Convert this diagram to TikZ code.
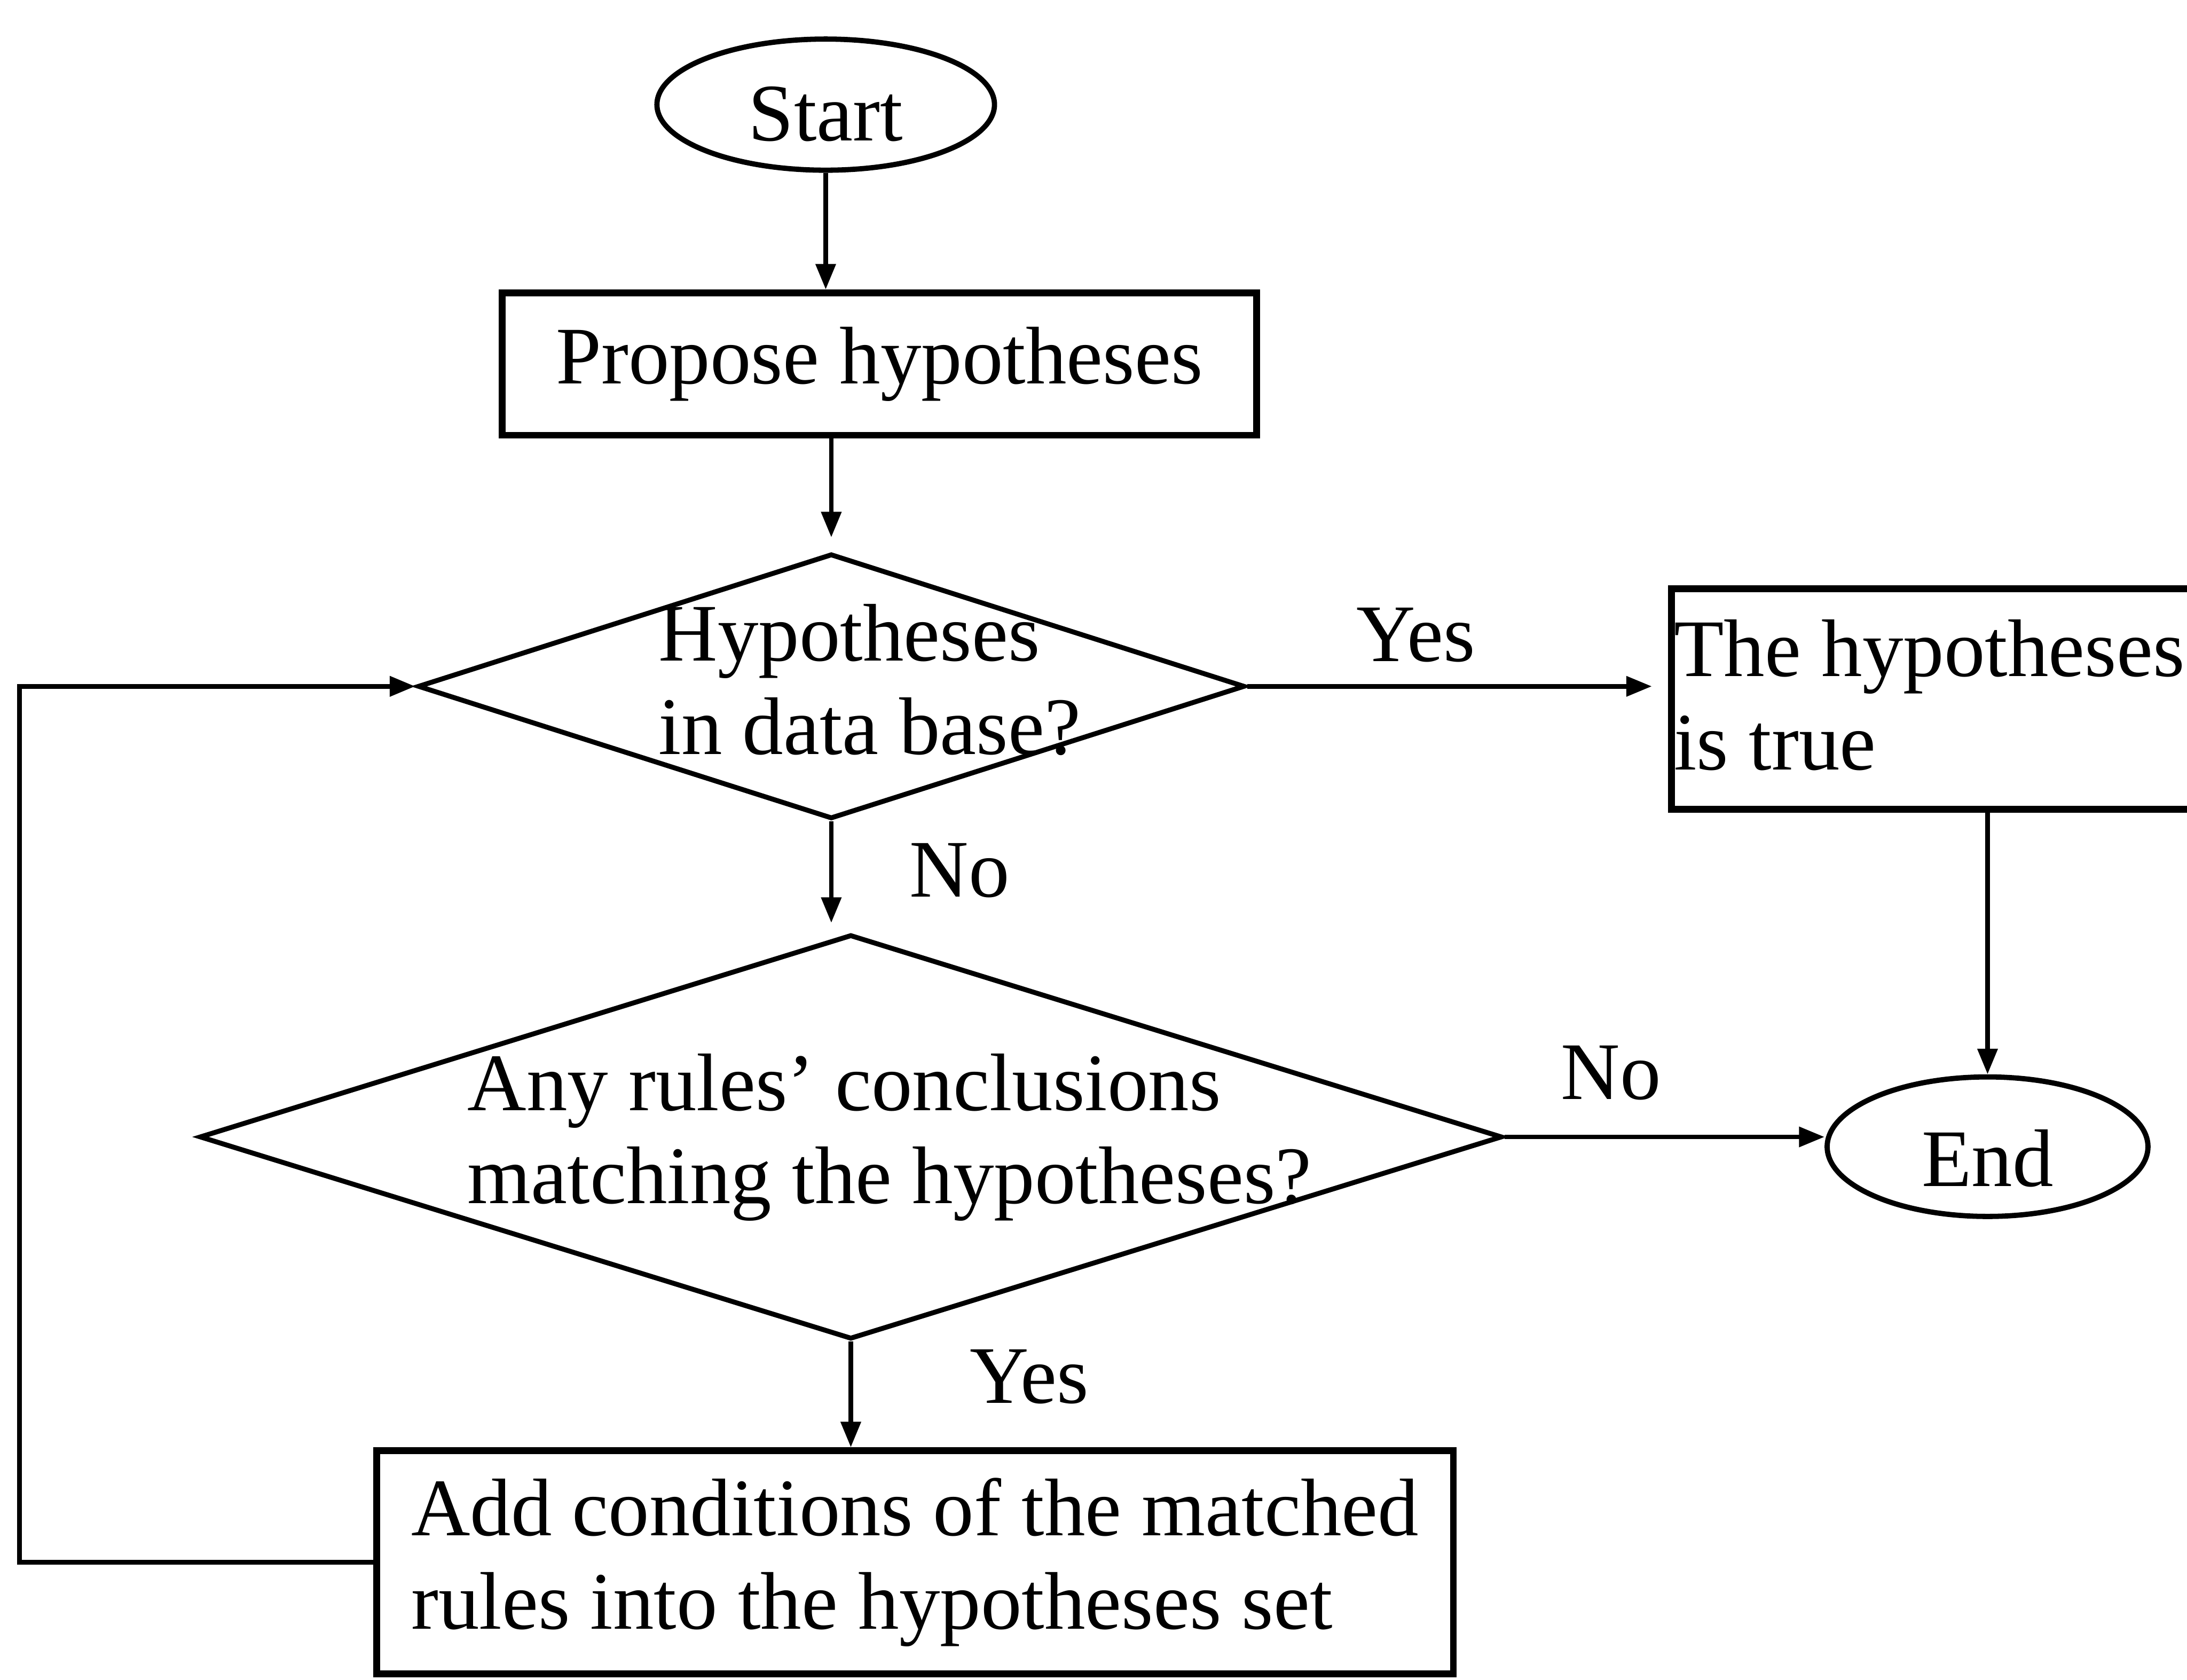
\documentclass[tikz,border=0pt]{standalone}
\usepackage{fontspec}
\setmainfont{Liberation Serif}
\usetikzlibrary{arrows.meta,shapes.geometric}
\begin{document}
\begin{tikzpicture}[x=0.03cm,y=-0.03cm,
  font=\fontsize{50}{57}\selectfont,
  term/.style={ellipse,draw,line width=3.2pt,inner sep=0pt},
  procbox/.style={rectangle,draw,line width=4.2pt,inner sep=0pt},
  decision/.style={diamond,draw,line width=3pt,inner sep=0pt},
  txt/.style={inner sep=0pt,align=left},
  lbl/.style={inner sep=0pt},
  arr/.style={line width=2.8pt,-{Triangle[length=0.55cm,width=0.42cm]}},
  fbline/.style={line width=3pt,-{Triangle[length=0.55cm,width=0.42cm]}}]
\useasboundingbox (0,0) rectangle (1568,1204);
\clip (0,0) rectangle (1568,1204);
\node[term,minimum width=7.26cm,minimum height=2.82cm,text height=1.56cm,text depth=0cm] (start) at (592,75) {Start};
\node[procbox,minimum width=16.23cm,minimum height=3.06cm] (propose) at (630.5,261) {Propose hypotheses};
\node[decision,minimum width=17.79cm,minimum height=5.7cm] (d1) at (596,492) {};
\node[txt,anchor=north west] (d1txt) at (472,433) {Hypotheses\\in data base?};
\node[procbox,minimum width=12.3cm,minimum height=4.74cm,anchor=west] (true) at (1196,501) {};
\node[txt,anchor=north west] (truetxt) at (1200,444) {The hypotheses\\is true};
\node[decision,minimum width=28.02cm,minimum height=8.7cm] (d2) at (610,815) {};
\node[txt,anchor=north west] (d2txt) at (335,755) {Any rules’ conclusions\\matching the hypotheses?};
\node[term,minimum width=6.9cm,minimum height=3cm,text height=1.7cm,text depth=0cm] (end) at (1425,822) {End};
\node[procbox,minimum width=23.16cm,minimum height=4.8cm,align=left] (add) at (656,1120) {Add conditions of the matched\\rules into the hypotheses set};
\node[lbl,anchor=base] (yes1) at (1015,474) {Yes};
\node[lbl,anchor=base] (no1) at (688,643) {No};
\node[lbl,anchor=base] (no2) at (1155,788) {No};
\node[lbl,anchor=base] (yes2) at (738,1006) {Yes};
\coordinate (fb) at (14,1115);
\draw[arr] (start.south) -- (start.south |- propose.north);
\draw[arr,shorten >=0.3cm] (d1.north |- propose.south) -- (d1.north);
\draw[arr,shorten >=0.35cm] (d1.east) -- (d1.east -| true.west);
\draw[arr] (end.north |- true.south) -- (end.north);
\draw[arr,shorten >=0.2cm] (d1.south) -- (d1.south |- d2.north);
\draw[arr] (d2.east) -- (d2.east -| end.west);
\draw[arr] (d2.south) -- (d2.south |- add.north);
\draw[fbline] (add.west) -- (fb |- add.west) |- (d1.west);
\end{tikzpicture}
\end{document}
